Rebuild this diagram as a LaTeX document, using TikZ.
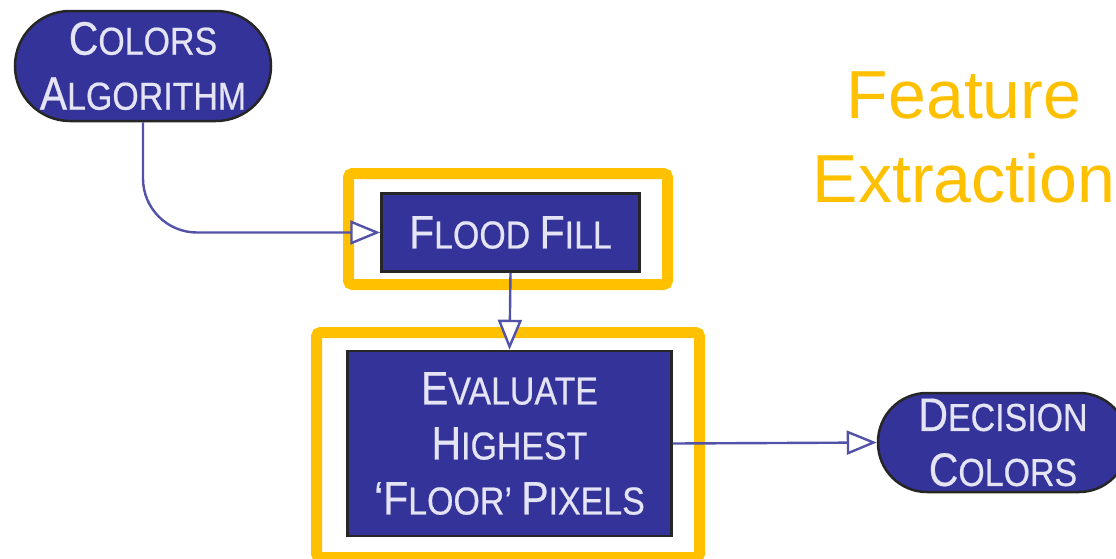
\documentclass[tikz,border=0pt]{standalone}
\usepackage{fontspec}
\setmainfont{Liberation Sans}
\newfontfamily\boxfont[FakeStretch=0.87,FakeBold=0.5]{Liberation Sans}
\usetikzlibrary{arrows.meta}
\definecolor{boxblue}{HTML}{333399}
\definecolor{boxtext}{HTML}{E4E4F4}
\definecolor{linkblue}{HTML}{5252A8}
\definecolor{frameyellow}{HTML}{FFC000}
\newcommand{\smcap}[2]{{\fontsize{47}{55}\selectfont #1}{\fontsize{39}{55}\selectfont #2}}

\begin{document}
\begin{tikzpicture}[x=1pt,y=-1pt,
  stepbox/.style={draw=black!85, line width=2.5pt, fill=boxblue, text=boxtext,
    inner sep=0pt, align=center, font=\boxfont\fontsize{39}{55}\selectfont},
  link/.style={draw=linkblue, line width=2.4pt,
    -{Triangle[open,length=30pt,width=24pt,fill=white]}},
  frame/.style={draw=frameyellow, line width=11pt, rounded corners=4pt}]
\useasboundingbox (0,0) rectangle (1116,558);
\draw[frame] (348.5,173.5) rectangle (667.5,284.5);
\draw[frame] (316.5,332.5) rectangle (699.5,557.5);
\node[stepbox, minimum width=256pt, minimum height=110pt, rounded corners=55pt]
  (colalg) at (143,66) {\smcap{C}{OLORS}\\\smcap{A}{LGORITHM}};
\node[stepbox, minimum width=258pt, minimum height=78pt]
  (flood) at (510.5,232.5) {\smcap{F}{LOOD} \smcap{F}{ILL}};
\node[stepbox, minimum width=324pt, minimum height=185pt]
  (evalfloor) at (509.5,443.5) {\smcap{E}{VALUATE}\\\smcap{H}{IGHEST}\\\smcap{‘F}{LOOR’} \smcap{P}{IXELS}};
\node[stepbox, minimum width=250pt, minimum height=99pt, rounded corners=49pt]
  (decision) at (1003,442.5) {\smcap{D}{ECISION}\\\smcap{C}{OLORS}};
\node[text=frameyellow, font=\fontsize{68}{83}\selectfont, anchor=base]
  (feat) at (964,118) {Feature};
\node[text=frameyellow, font=\fontsize{68}{83}\selectfont, anchor=base]
  (extr) at (964,202) {Extraction};
\draw[link, rounded corners=54pt] (colalg.south) |- (flood.west);
\draw[link] (flood.south) -- (evalfloor.north);
\draw[link] (evalfloor.east) -- (decision.west);
\end{tikzpicture}
\end{document}
